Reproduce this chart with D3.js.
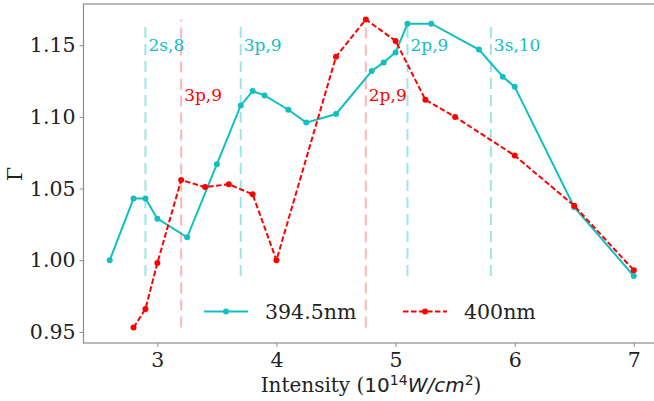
<!DOCTYPE html>
<html>
<head>
<meta charset="utf-8">
<script src="https://cdn.jsdelivr.net/npm/d3@7"></script>
<style>
  html, body { margin: 0; padding: 0; background: #fff; }
  svg { display: block; }
  text { font-family: "DejaVu Serif", serif; }
</style>
</head>
<body>
<div id="chart"></div>
<script>
// Intensity (10^14 W/cm^2) and Γ for the two wavelengths
const cyanX = [2.6, 2.8, 2.9, 3.0, 3.25, 3.5, 3.7, 3.8, 3.9, 4.1, 4.25, 4.5, 4.8, 4.9, 5.0, 5.1, 5.3, 5.7, 5.9, 6.0, 6.5, 7.0];
const cyanY = [1.000, 1.043, 1.043, 1.029, 1.016, 1.067, 1.108, 1.118, 1.115, 1.105, 1.096, 1.102, 1.132, 1.138, 1.145, 1.165, 1.165, 1.147, 1.128, 1.121, 1.037, 0.989];
const redX = [2.8, 2.9, 3.0, 3.2, 3.4, 3.6, 3.8, 4.0, 4.5, 4.75, 5.0, 5.25, 5.5, 6.0, 6.5, 7.0];
const redY = [0.953, 0.966, 0.998, 1.056, 1.051, 1.053, 1.046, 1.000, 1.142, 1.168, 1.153, 1.112, 1.100, 1.073, 1.038, 0.993];

// resonance markers
const cyanMarkX = [2.9, 3.7, 5.1, 5.8];
const cyanMarkLabels = ["2s,8", "3p,9", "2p,9", "3s,10"];
const redMarkX = [3.2, 4.75];
const redMarkLabels = ["3p,9", "2p,9"];

const seriesNames = ["394.5nm", "400nm"];
const xTicks = [3, 4, 5, 6, 7];
const yTicks = [0.95, 1.00, 1.05, 1.10, 1.15];

const W = 654, H = 401;
const CYAN = "#12bfc0", RED = "#ff0000";

const svg = d3.select("#chart").append("svg").attr("width", W).attr("height", H);

const plotL = 83.5, plotR = 660, plotT = 4, plotB = 343;
const x = d3.scaleLinear().domain([2.38, 7.22]).range([plotL, plotR]);
const y = d3.scaleLinear().domain([0.94225, 1.17875]).range([plotB, plotT]);

// vertical resonance lines, spanning each series' range
function vlines(xs, ys, color) {
  const lo = d3.min(ys), hi = d3.max(ys);
  svg.append("g").selectAll("line").data(xs).join("line")
    .attr("x1", d => x(d)).attr("x2", d => x(d))
    .attr("y1", y(lo)).attr("y2", y(hi))
    .attr("stroke", color).attr("stroke-width", 2)
    .attr("stroke-dasharray", "11,6");
}
vlines(cyanMarkX, cyanY, "#9de6e6");
vlines(redMarkX, redY, "#ffb6b6");

// marker labels
svg.append("g").selectAll("text").data(cyanMarkX).join("text")
  .attr("x", d => x(d) + 3).attr("y", y(1.15))
  .attr("dy", "0.35em")
  .attr("fill", CYAN).attr("font-size", 17)
  .text((d, i) => cyanMarkLabels[i]);
svg.append("g").selectAll("text").data(redMarkX).join("text")
  .attr("x", d => x(d) + 3).attr("y", y(1.115))
  .attr("dy", "0.35em")
  .attr("fill", RED).attr("font-size", 17)
  .text((d, i) => redMarkLabels[i]);

// series
const line = d3.line().x(d => x(d[0])).y(d => y(d[1]));
const cyanPts = cyanX.map((v, i) => [v, cyanY[i]]);
const redPts = redX.map((v, i) => [v, redY[i]]);

svg.append("path").datum(cyanPts).attr("d", line)
  .attr("fill", "none").attr("stroke", CYAN).attr("stroke-width", 2);
svg.append("g").selectAll("circle").data(cyanPts).join("circle")
  .attr("cx", d => x(d[0])).attr("cy", d => y(d[1])).attr("r", 3).attr("fill", CYAN);

svg.append("path").datum(redPts).attr("d", line)
  .attr("fill", "none").attr("stroke", RED).attr("stroke-width", 2)
  .attr("stroke-dasharray", "5.5,2.5");
svg.append("g").selectAll("circle").data(redPts).join("circle")
  .attr("cx", d => x(d[0])).attr("cy", d => y(d[1])).attr("r", 3).attr("fill", RED);

// frame
svg.append("rect").attr("x", plotL).attr("y", plotT)
  .attr("width", plotR - plotL).attr("height", plotB - plotT)
  .attr("fill", "none").attr("stroke", "#8c8c8c").attr("stroke-width", 1.2);

// axes
const xAxis = svg.append("g").attr("transform", `translate(0,${plotB})`)
  .call(d3.axisBottom(x).tickValues(xTicks).tickFormat(d3.format("d")).tickSize(4).tickPadding(5));
const yAxis = svg.append("g").attr("transform", `translate(${plotL},0)`)
  .call(d3.axisLeft(y).tickValues(yTicks).tickFormat(d3.format(".2f")).tickSize(4).tickPadding(4));
[xAxis, yAxis].forEach(a => {
  a.select(".domain").remove();
  a.selectAll(".tick line").attr("stroke", "#8c8c8c");
  a.selectAll(".tick text").attr("font-family", "DejaVu Serif").attr("font-size", 20.5).attr("fill", "#222");
});

// axis titles
const xt = svg.append("text").attr("x", 371).attr("y", 392)
  .attr("text-anchor", "middle").attr("font-size", 20).attr("fill", "#222");
xt.append("tspan").text("Intensity (");
xt.append("tspan").attr("font-family", "DejaVu Sans").text("10");
xt.append("tspan").attr("font-family", "DejaVu Sans").attr("font-size", 14).attr("dy", -7.5).text("14");
xt.append("tspan").attr("font-family", "DejaVu Sans").attr("font-style", "italic").attr("dy", 7.5).text("W/cm");
xt.append("tspan").attr("font-family", "DejaVu Sans").attr("font-size", 14).attr("dy", -7.5).text("2");
xt.append("tspan").attr("dy", 7.5).text(")");

svg.append("text").attr("transform", "translate(22,174) rotate(-90)")
  .attr("text-anchor", "middle").attr("font-family", "DejaVu Sans")
  .attr("font-size", 20.5).attr("fill", "#222").text("Γ");

// legend
const legend = svg.append("g");
const legendItems = [
  { name: seriesNames[0], color: CYAN, dash: null, x0: 204 },
  { name: seriesNames[1], color: RED, dash: "5.5,2.5", x0: 403 }
];
legendItems.forEach(it => {
  const ly = 311.5;
  legend.append("line").attr("x1", it.x0).attr("x2", it.x0 + 44)
    .attr("y1", ly).attr("y2", ly).attr("stroke", it.color).attr("stroke-width", 2)
    .attr("stroke-dasharray", it.dash);
  legend.append("circle").attr("cx", it.x0 + 22).attr("cy", ly).attr("r", 3).attr("fill", it.color);
  legend.append("text").attr("x", it.x0 + 61).attr("y", ly).attr("dy", "0.35em")
    .attr("font-size", 20.5).attr("fill", "#222").text(it.name);
});
</script>
</body>
</html>
